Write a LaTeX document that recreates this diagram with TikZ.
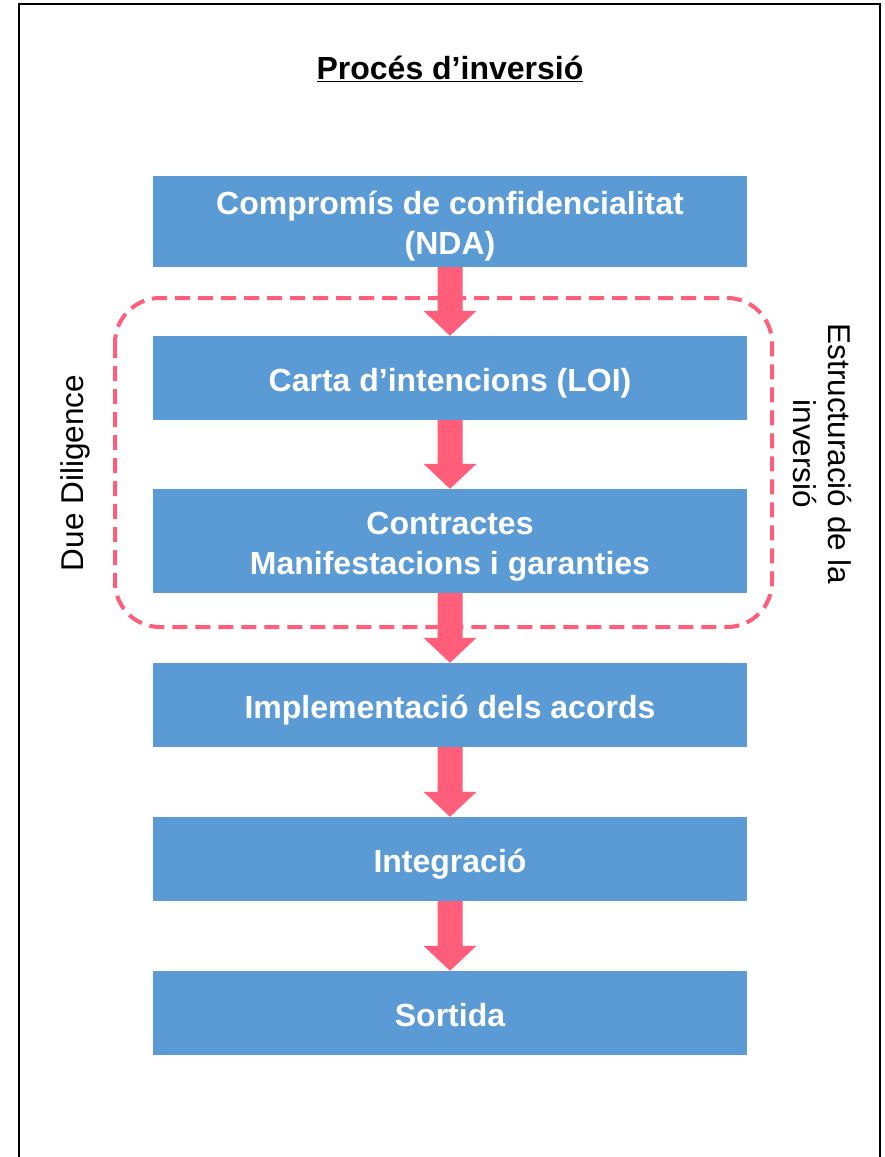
\documentclass[tikz,border=0pt]{standalone}
\usepackage{fontspec}
\setmainfont{Liberation Sans}
\usetikzlibrary{calc}
\definecolor{boxblue}{RGB}{91,155,213}
\definecolor{arrowpink}{RGB}{255,94,122}
\newcommand\flowarrow[2]{\fill[arrowpink] ($(#1.south)+(-12.5,0)$) -- ($(#2.north)+(-12.5,-25)$) -- ($(#2.north)+(-26.5,-25)$) -- (#2.north) -- ($(#2.north)+(26.5,-25)$) -- ($(#2.north)+(12.5,-25)$) -- ($(#1.south)+(12.5,0)$) -- cycle;}
\newcommand\boxtext[1]{\raisebox{0pt}[\dimexpr\height+10pt\relax][\depth]{\begin{tabular}{@{}c@{}}#1\end{tabular}}}
\begin{document}
\begin{tikzpicture}[x=1pt,y=-1pt,
  stepbox/.style={fill=boxblue, minimum width=594pt, inner sep=0pt, text=white, font=\fontsize{32}{40}\selectfont\bfseries},
  sidelabel/.style={font=\fontsize{31.5}{35}\selectfont, align=center, inner sep=0pt}]
\useasboundingbox (0,0) rectangle (885,1157);
\fill[white] (0,0) rectangle (885,1157);
\draw[line width=2pt] (19,1165) -- (19,4) -- (880,4) -- (880,1165);
\node[font=\fontsize{32}{38}\selectfont\bfseries] (title) at (450,69) {\underline{Procés d’inversió}};
\draw[arrowpink, line width=4pt, dash pattern=on 15pt off 8pt, rounded corners=45pt] (115,298) rectangle (772,627);
\node[stepbox, minimum height=91pt] (b1) at (450,221.5) {\boxtext{Compromís de confidencialitat\\(NDA)}};
\node[stepbox, minimum height=84pt] (b2) at (450,378) {\boxtext{Carta d’intencions (LOI)}};
\node[stepbox, minimum height=104pt] (b3) at (450,541) {\boxtext{Contractes\\Manifestacions i garanties}};
\node[stepbox, minimum height=84pt] (b4) at (450,705) {\boxtext{Implementació dels acords}};
\node[stepbox, minimum height=84pt] (b5) at (450,859) {\boxtext{Integració}};
\node[stepbox, minimum height=84pt] (b6) at (450,1013) {\boxtext{Sortida}};
\flowarrow{b1}{b2}
\flowarrow{b2}{b3}
\flowarrow{b3}{b4}
\flowarrow{b4}{b5}
\flowarrow{b5}{b6}
\node[sidelabel, rotate=90] (dd) at (75,473) {Due Diligence};
\node[sidelabel, rotate=-90] (ei) at (822,454) {Estructuració de la\\inversió};
\end{tikzpicture}
\end{document}
